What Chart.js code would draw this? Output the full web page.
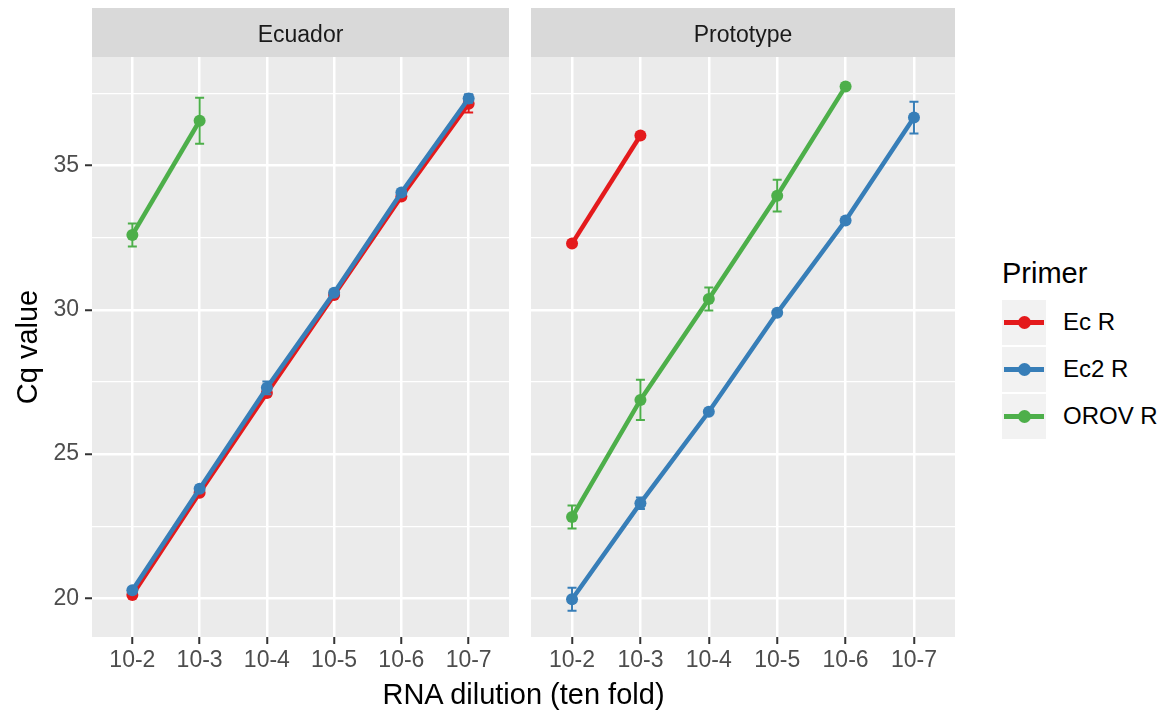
<!DOCTYPE html>
<html>
<head>
<meta charset="utf-8">
<script src="https://cdn.jsdelivr.net/npm/chart.js@4.4.1/dist/chart.umd.min.js"></script>
<style>
  body { margin: 0; background: #fff; font-family: "Liberation Sans", Arial, sans-serif; }
  #wrap { position: relative; width: 1175px; height: 712px; overflow: hidden; }
  canvas { position: absolute; top: 0; }
  #xtitle { position: absolute; left: 92px; width: 863px; top: 680px; text-align: center;
    font-size: 29px; line-height: 29px; color: #000; white-space: nowrap; }
  #legend { position: absolute; left: 1002px; top: 259px; color: #000; }
  #legend .ttl { font-size: 29px; line-height: 29px; height: 41px; }
  #legend .row { position: relative; height: 47px; }
  #legend .key { position: absolute; left: 0; top: 0; width: 44px; height: 45px; background: #f2f2f2; }
  #legend .key .ln { position: absolute; left: 2px; right: 2px; top: 20px; height: 5px; }
  #legend .key .pt { position: absolute; left: 16px; top: 16px; width: 13px; height: 13px; border-radius: 50%; }
  #legend .lab { position: absolute; left: 61px; top: 10px; font-size: 24px; line-height: 24px; white-space: nowrap; }
</style>
</head>
<body>
<div id="wrap">
  <canvas id="left" width="520" height="712" style="left:0"></canvas>
  <canvas id="right" width="450" height="712" style="left:520px"></canvas>
  <div id="xtitle">RNA dilution (ten fold)</div>
  <div id="legend"></div>
</div>
<script>
// ===== 数据 =====
var dilutions = ['10-2', '10-3', '10-4', '10-5', '10-6', '10-7'];
var primers = ['Ec R', 'Ec2 R', 'OROV R'];
var primerColors = ['#E41A1C', '#377EB8', '#4DAF4A'];
var yTicks = [20, 22.5, 25, 27.5, 30, 32.5, 35, 37.5];

// Ecuador panel
var ecuadorEcR = [20.12, 23.66, 27.12, 30.52, 33.93, 37.15];
var ecuadorEcRsd = [0.05, 0.08, 0.1, 0.06, 0.06, 0.3];
var ecuadorEc2R = [20.28, 23.8, 27.3, 30.6, 34.07, 37.33];
var ecuadorEc2Rsd = [0.1, 0.1, 0.22, 0.08, 0.08, 0.15];
var ecuadorOROV = [32.6, 36.56, null, null, null, null];
var ecuadorOROVsd = [0.4, 0.8, null, null, null, null];

// Prototype panel
var protoEcR = [32.3, 36.05, null, null, null, null];
var protoEcRsd = [0.05, 0.05, null, null, null, null];
var protoEc2R = [19.97, 23.3, 26.47, 29.9, 33.1, 36.67];
var protoEc2Rsd = [0.4, 0.2, 0.05, 0.05, 0.05, 0.55];
var protoOROV = [22.82, 26.88, 30.38, 33.96, 37.75, null];
var protoOROVsd = [0.4, 0.7, 0.4, 0.55, 0.05, null];

var Y_MIN = 18.66, Y_MAX = 38.77;
var FONT = '"Liberation Sans", Arial, sans-serif';

// ===== 面板背景 + 分面标签 =====
var panelPlugin = {
  id: 'panel',
  beforeDraw: function(chart) {
    var a = chart.chartArea, ctx = chart.ctx;
    ctx.save();
    ctx.fillStyle = '#EBEBEB';
    ctx.fillRect(a.left, a.top, a.right - a.left, a.bottom - a.top);
    ctx.fillStyle = '#D9D9D9';
    ctx.fillRect(a.left, 8, a.right - a.left, a.top - 8);
    ctx.fillStyle = '#1A1A1A';
    ctx.font = '23px ' + FONT;
    ctx.textAlign = 'center';
    ctx.textBaseline = 'alphabetic';
    ctx.fillText(chart.options.plugins.panel.strip, (a.left + a.right) / 2, 42);
    ctx.restore();
  }
};

// ===== 误差线 =====
var errorBarPlugin = {
  id: 'errbars',
  afterDatasetDraw: function(chart, args) {
    var ds = chart.data.datasets[args.index];
    if (!ds.sd) return;
    var xs = chart.scales.x, ys = chart.scales.y, ctx = chart.ctx;
    ctx.save();
    ctx.strokeStyle = ds.borderColor;
    ctx.lineWidth = 2;
    ds.data.forEach(function(p, i) {
      var s = ds.sd[i];
      if (p.y == null || s == null) return;
      var x = xs.getPixelForValue(p.x);
      var y1 = ys.getPixelForValue(p.y - s);
      var y2 = ys.getPixelForValue(p.y + s);
      ctx.beginPath();
      ctx.moveTo(x, y1); ctx.lineTo(x, y2);
      ctx.moveTo(x - 4.5, y1); ctx.lineTo(x + 4.5, y1);
      ctx.moveTo(x - 4.5, y2); ctx.lineTo(x + 4.5, y2);
      ctx.stroke();
    });
    ctx.restore();
  }
};

function makeDataset(idx, values, sd) {
  return {
    label: primers[idx],
    data: values.map(function(v, i) { return { x: i, y: v }; }),
    sd: sd,
    borderColor: primerColors[idx],
    backgroundColor: primerColors[idx],
    borderWidth: 4.5,
    pointRadius: 6,
    pointBorderWidth: 0,
    pointBackgroundColor: primerColors[idx],
    spanGaps: false,
    tension: 0,
    order: 3 - idx
  };
}

function makeConfig(strip, datasets, showY) {
  return {
    type: 'line',
    data: { datasets: datasets },
    plugins: [panelPlugin, errorBarPlugin],
    options: {
      responsive: false,
      animation: false,
      devicePixelRatio: 1,
      layout: { padding: { top: 57, right: showY ? 11 : 15, left: showY ? 0 : 11, bottom: 0 } },
      plugins: {
        legend: { display: false },
        tooltip: { enabled: false },
        panel: { strip: strip }
      },
      scales: {
        x: {
          type: 'linear',
          min: -0.6,
          max: 5.6,
          afterBuildTicks: function(axis) {
            axis.ticks = dilutions.map(function(_, i) { return { value: i }; });
          },
          afterFit: function(axis) { axis.height = 75; },
          border: { display: false },
          grid: { color: '#FFFFFF', lineWidth: 2.5, tickColor: '#333333', tickLength: 7, tickWidth: 2 },
          ticks: {
            color: '#4D4D4D',
            font: { family: FONT, size: 23 },
            padding: 3,
            maxRotation: 0,
            callback: function(v) { return dilutions[v]; }
          }
        },
        y: {
          type: 'linear',
          min: Y_MIN,
          max: Y_MAX,
          afterBuildTicks: function(axis) {
            axis.ticks = yTicks.map(function(v) { return { value: v }; });
          },
          afterFit: function(axis) { axis.width = showY ? 92 : 0; },
          border: { display: false },
          grid: {
            color: '#FFFFFF',
            lineWidth: function(c) { return c.tick && c.tick.value % 5 === 0 ? 2.5 : 1.3; },
            tickColor: function(c) { return c.tick && c.tick.value % 5 === 0 ? '#333333' : 'rgba(0,0,0,0)'; },
            tickLength: 7,
            tickWidth: 2,
            drawTicks: showY
          },
          ticks: {
            display: showY,
            color: '#4D4D4D',
            font: { family: FONT, size: 23 },
            padding: 6,
            callback: function(v) { return v % 5 === 0 ? String(v) : ''; }
          },
          title: {
            display: showY,
            text: 'Cq value',
            color: '#000000',
            font: { family: FONT, size: 29 },
            padding: { top: 12 }
          }
        }
      }
    }
  };
}

new Chart(document.getElementById('left'), makeConfig('Ecuador', [
  makeDataset(0, ecuadorEcR, ecuadorEcRsd),
  makeDataset(1, ecuadorEc2R, ecuadorEc2Rsd),
  makeDataset(2, ecuadorOROV, ecuadorOROVsd)
], true));

new Chart(document.getElementById('right'), makeConfig('Prototype', [
  makeDataset(0, protoEcR, protoEcRsd),
  makeDataset(1, protoEc2R, protoEc2Rsd),
  makeDataset(2, protoOROV, protoOROVsd)
], false));

// ===== 图例 =====
var legendEl = document.getElementById('legend');
var html = '<div class="ttl">Primer</div>';
primers.forEach(function(p, i) {
  html += '<div class="row"><div class="key"><div class="ln" style="background:' + primerColors[i] +
    '"></div><div class="pt" style="background:' + primerColors[i] + '"></div></div>' +
    '<div class="lab">' + p + '</div></div>';
});
legendEl.innerHTML = html;
</script>
</body>
</html>
